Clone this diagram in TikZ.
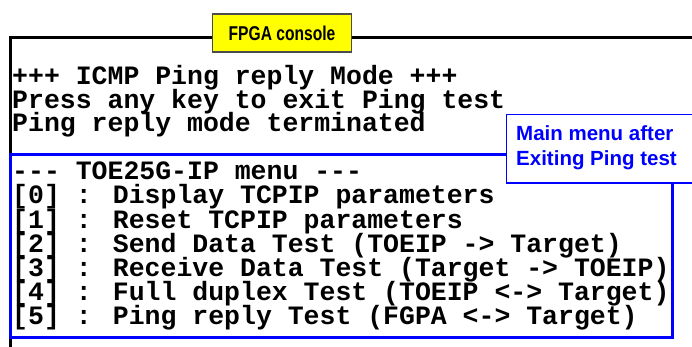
\documentclass[tikz,border=0pt]{standalone}
\usepackage{fontspec}
\setmainfont{Liberation Sans}
\newfontfamily\termfont{Liberation Mono}
\newfontfamily\narrowsans{Liberation Sans}[FakeStretch=0.78]
\definecolor{pureblue}{RGB}{0,0,255}
\definecolor{consyellow}{RGB}{255,255,0}
\begin{document}
\begin{tikzpicture}[x=1pt,y=-1pt,
  term/.style={anchor=base west,inner sep=0pt,text height=16pt,text depth=4pt,font=\termfont\bfseries\fontsize{26.5}{24}\selectfont},
  titlebox/.style={draw=black!70,line width=1.2pt,fill=consyellow,minimum width=139pt,minimum height=38pt,inner sep=0pt,font=\narrowsans\bfseries\fontsize{20}{22}\selectfont},
  notetext/.style={anchor=base west,inner sep=0pt,text=pureblue,font=\bfseries\fontsize{20.5}{24}\selectfont}]
\useasboundingbox (0,0) rectangle (692,347);
% console frame
\coordinate (ftr) at (694,38);
\coordinate (ftl) at (10,38);
\coordinate (fbl) at (10,349);
\draw[line width=3pt,line cap=rect] (ftr) -- (ftl) -- (fbl);
\node[titlebox] (title) at (282,33) {FPGA console};
% console text
\node[term] (l1) at (12,85) {+++ ICMP Ping reply Mode +++};
\node[term] (l2) at (12,108.5) {Press any key to exit Ping test};
\node[term] (l3) at (12,132) {Ping reply mode terminated};
% menu box
\draw[pureblue,line width=3pt] (10,154.5) rectangle (672,337.5);
\node[term] (m0) at (12,180) {--- TOE25G-IP menu ---};
\node[term] (m1) at (12,204) {[0] : Display TCPIP parameters};
\node[term] (m2) at (12,228) {[1] : Reset TCPIP parameters};
\node[term] (m3) at (12,252) {[2] : Send Data Test (TOEIP -> Target)};
\node[term] (m4) at (12,276) {[3] : Receive Data Test (Target -> TOEIP)};
\node[term] (m5) at (12,300) {[4] : Full duplex Test (TOEIP <-> Target)};
\node[term] (m6) at (12,324) {[5] : Ping reply Test (FGPA <-> Target)};
% note
\draw[pureblue,line width=1.2pt,fill=white] (506.5,114.5) rectangle (700,183);
\node[notetext] (n1) at (516,141) {Main menu after};
\node[notetext] (n2) at (516,166) {Exiting Ping test};
\end{tikzpicture}
\end{document}
